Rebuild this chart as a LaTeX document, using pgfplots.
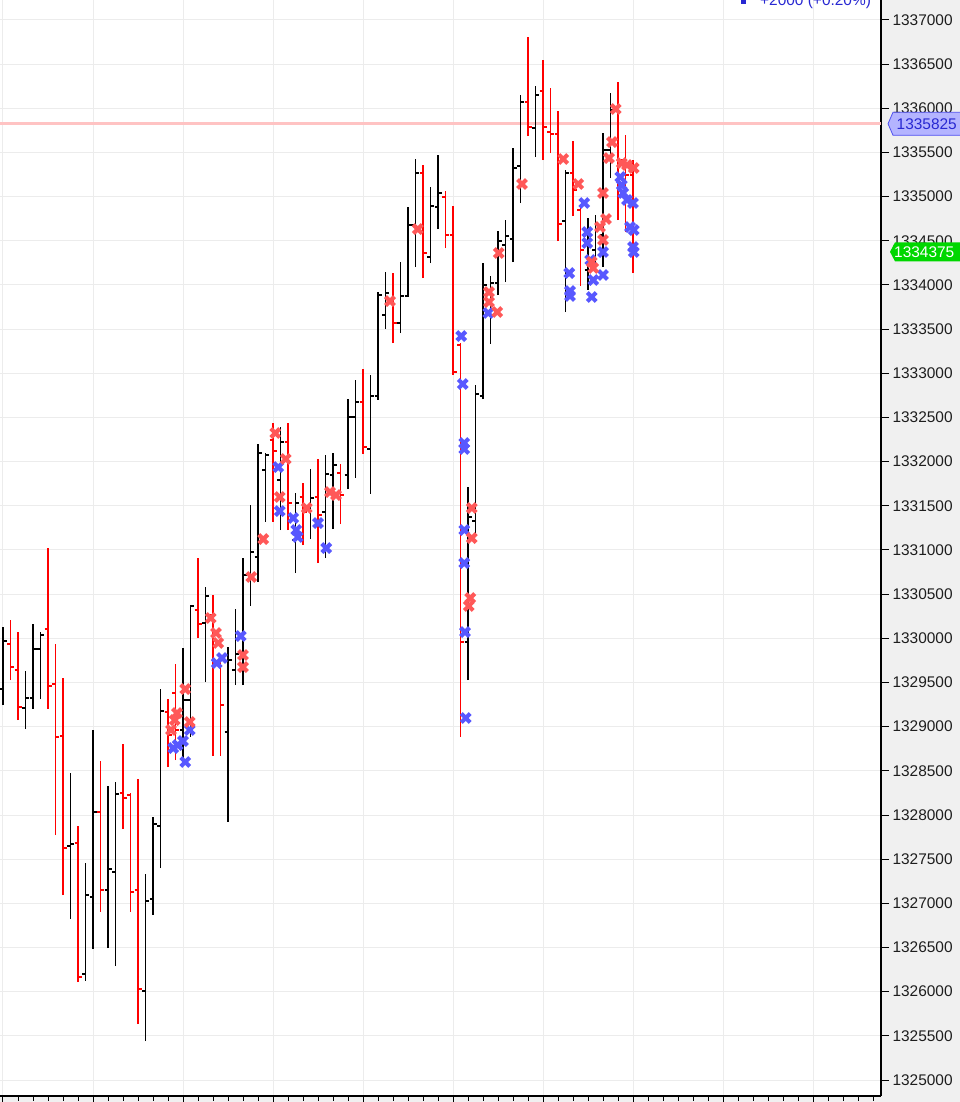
\documentclass[border=0pt]{standalone}
\usepackage{fontspec}
\setmainfont{Liberation Sans}
\usepackage{pgfplots}
\pgfplotsset{compat=1.18}
\usepackage{pgfplotstable}

\definecolor{barred}{RGB}{255,0,0}
\definecolor{mkred}{RGB}{255,88,88}
\definecolor{mkblue}{RGB}{88,88,255}
\definecolor{gridc}{RGB}{236,236,236}
\definecolor{panel}{RGB}{240,240,240}
\definecolor{lvline}{RGB}{255,195,195}
\definecolor{lblblue}{RGB}{180,180,255}
\definecolor{lblbord}{RGB}{80,80,240}
\definecolor{lbltxt}{RGB}{40,40,210}
\definecolor{lblgreen}{RGB}{0,215,0}
\definecolor{tickc}{RGB}{30,30,30}

\pgfdeclareplotmark{otick}{\pgfpathmoveto{\pgfqpoint{-3.5bp}{0pt}}\pgfpathlineto{\pgfqpoint{0pt}{0pt}}\pgfusepathqstroke}
\pgfdeclareplotmark{ctick}{\pgfpathmoveto{\pgfqpoint{0pt}{0pt}}\pgfpathlineto{\pgfqpoint{3.5bp}{0pt}}\pgfusepathqstroke}
\pgfdeclareplotmark{nomark}{}

% x o h l c  (up bars, black)
\pgfplotstableread{
x o h l c
0 1329426 1330128 1329245 1329970
3 1329211 1329630 1328973 1329324
4 1329324 1330162 1329200 1329879
5 1329879 1330071 1329313 1330037
9 1327649 1328475 1326823 1327672
11 1326200 1327456 1326121 1327094
12 1327072 1328962 1326483 1328034
14 1327151 1328328 1326494 1327389
15 1327355 1328373 1326290 1328238
19 1326007 1327332 1325441 1327026
20 1327049 1327977 1326868 1327898
21 1327875 1329426 1327400 1329177
24 1328962 1329890 1328645 1329302
25 1329302 1330377 1328883 1330366
27 1330173 1330581 1329505 1330479
30 1328939 1329902 1327921 1329754
31 1329641 1330332 1329471 1329822
32 1329698 1330909 1329471 1330717
33 1330728 1331509 1330366 1330977
34 1330920 1332200 1330637 1332098
35 1331905 1332098 1331317 1332075
37 1331792 1332392 1331226 1332222
39 1331113 1331645 1330739 1331532
41 1331452 1331917 1331124 1331588
43 1331430 1332075 1330909 1331860
44 1331849 1332098 1331237 1331962
46 1331849 1332709 1331690 1332505
47 1332505 1332924 1331815 1332675
49 1332143 1332981 1331634 1332743
50 1332743 1333920 1332698 1333886
51 1333660 1334147 1333501 1333909
53 1333569 1334260 1333456 1333875
54 1333875 1334882 1333864 1334679
55 1334679 1335426 1334203 1335267
57 1334316 1335109 1334248 1334894
58 1334882 1335471 1334633 1335041
62 1329958 1331713 1329528 1331373
63 1331328 1332867 1331192 1332766
64 1332743 1334248 1332709 1334000
65 1333830 1334101 1333332 1334022
66 1334022 1334611 1333886 1334497
67 1334452 1334735 1334033 1334554
68 1334520 1335550 1334260 1335324
69 1335346 1336150 1334928 1336071
71 1335777 1336252 1335448 1336150
75 1334724 1335301 1333694 1335267
78 1334169 1334758 1333943 1334509
79 1334396 1334792 1334226 1334679
80 1334565 1335720 1334203 1335528
81 1335528 1336173 1335211 1335980
}\blackbars

% x o h l c  (down bars, red)
\pgfplotstableread{
x o h l c
1 1329935 1330207 1329528 1329675
2 1329641 1330071 1329075 1329222
6 1330105 1331022 1329200 1329460
7 1329483 1329935 1327773 1328883
8 1328894 1329551 1327094 1327626
10 1327683 1327875 1326109 1326166
13 1328034 1328611 1326902 1327151
16 1328249 1328804 1327841 1328192
17 1328226 1328249 1326902 1327128
18 1327151 1328407 1325634 1326030
22 1329166 1329313 1328543 1328905
23 1329381 1329709 1328622 1328962
26 1330320 1330909 1330003 1330162
28 1330264 1330490 1328668 1329981
29 1329698 1329754 1328668 1329245
36 1332245 1332437 1331317 1332120
38 1332222 1332437 1331226 1331532
40 1331600 1331758 1331056 1331430
42 1331600 1332030 1330852 1331396
45 1331871 1331973 1331294 1331622
48 1332675 1333049 1332086 1332166
52 1333830 1334135 1333343 1333569
56 1335267 1335358 1334079 1334362
59 1334996 1335063 1334418 1334565
60 1334565 1334894 1332981 1333015
61 1333320 1333343 1328883 1329958
70 1336071 1336807 1335686 1335788
72 1336195 1336546 1335414 1335788
73 1335731 1336229 1335494 1335709
74 1335709 1335969 1334497 1334690
76 1335267 1335629 1334780 1335075
77 1334848 1334905 1333988 1334396
82 1335980 1336297 1334735 1335414
83 1335414 1335697 1334599 1335245
84 1335245 1335414 1334135 1334375
}\redbars

\begin{document}
\begin{tikzpicture}
\useasboundingbox (0,0) rectangle (960bp,1102bp);
\fill[white] (0,0) rectangle (960bp,1102bp);
\fill[panel] (881bp,0) rectangle (960bp,1102bp);
\fill[panel] (0,0) rectangle (960bp,6bp);
\begin{axis}[
  at={(0,6bp)}, anchor=south west,
  scale only axis, width=881bp, height=1096bp,
  xmin=-0.4, xmax=117.0667, ymin=1324819, ymax=1337226,
  axis x line*=bottom, axis y line*=right,
  axis line style={black, line width=1.2bp},
  clip mode=individual,
  xtick={0,12,...,108}, xticklabels={},
  minor xtick={0,2,...,116},
  ytick={1325000,1325500,...,1337000},
  yticklabels={1325000,1325500,1326000,1326500,1327000,1327500,1328000,1328500,1329000,1329500,1330000,1330500,1331000,1331500,1332000,1332500,1333000,1333500,1334000,1334500,1335000,1335500,1336000,1336500,1337000},
  /pgf/number format/assume math mode=true,
  tick align=outside,
  major tick length=8bp, minor tick length=5bp,
  tick style={black, line width=1bp},
  yticklabel style={font=\fontsize{15.5}{16}\selectfont, text=tickc, anchor=west},
  xmajorgrids, ymajorgrids,
  major grid style={gridc, line width=1bp},
]
\addplot[lvline, line width=3bp, forget plot] coordinates {(-0.4,1335825) (117.0667,1335825)};

\addplot[only marks, mark=nomark, forget plot,
  error bars/.cd, y dir=plus, y explicit, error mark=none,
  error bar style={draw=black, solid, line width=1.7bp}]
  table[x=x, y=l, y error plus expr=\thisrow{h}-\thisrow{l}] {\blackbars};
\addplot[only marks, mark=otick, black, line width=1.3bp, forget plot] table[x=x, y=o] {\blackbars};
\addplot[only marks, mark=ctick, black, line width=1.3bp, forget plot] table[x=x, y=c] {\blackbars};

\addplot[only marks, mark=nomark, forget plot,
  error bars/.cd, y dir=plus, y explicit, error mark=none,
  error bar style={draw=barred, solid, line width=1.7bp}]
  table[x=x, y=l, y error plus expr=\thisrow{h}-\thisrow{l}] {\redbars};
\addplot[only marks, mark=otick, barred, line width=1.3bp, forget plot] table[x=x, y=o] {\redbars};
\addplot[only marks, mark=ctick, barred, line width=1.3bp, forget plot] table[x=x, y=c] {\redbars};

\addplot[only marks, mark=x, mark size=6.3bp, mkblue, line width=4.2bp, forget plot] coordinates {
(22.7,1328758) (23.3,1328792) (24,1328837) (24.3,1328600) (24.9,1328962) (28.5,1329720) (29.2,1329777) (31.7,1330026)
(36.7,1331939) (36.9,1331441) (38.7,1331362) (39.1,1331226) (39.3,1331147) (42,1331305) (43.1,1331022)
(61.1,1333422) (61.3,1332879) (61.5,1332211) (61.5,1332143) (61.5,1331226) (61.5,1330852) (61.6,1330071) (61.7,1329098)
(64.7,1333683) (75.5,1334135) (75.6,1333931) (75.6,1333875) (77.5,1334928) (77.9,1334599) (77.9,1334475) (78.3,1334282)
(78.7,1334056) (78.5,1333864) (80,1334113) (80,1334373) (82.3,1335222) (82.5,1335131) (82.7,1335041) (83.2,1334962)
(84,1334928) (83.6,1334656) (84.1,1334622) (84,1334430) (84.1,1334373)
};
\addplot[only marks, mark=x, mark size=6.3bp, mkred, line width=4.2bp, forget plot] coordinates {
(22.4,1328962) (22.9,1329075) (23.2,1329154) (24.3,1329426) (24.9,1329053) (27.7,1330230) (28.4,1330060) (28.7,1329947)
(32,1329811) (32,1329675) (33.1,1330694) (34.7,1331124) (36.3,1332324) (37.7,1332030) (36.9,1331600) (40.5,1331475)
(43.6,1331656) (44.4,1331622) (51.6,1333818) (55.3,1334633) (62.5,1331475) (62.5,1331135) (62.3,1330456) (62.1,1330366)
(64.8,1333920) (64.8,1333807) (65.9,1333694) (66.1,1334362) (69.2,1335143) (74.7,1335426) (76.7,1335143) (80,1335041)
(80.4,1334747) (79.6,1334656) (80,1334509) (78.5,1334260) (78.7,1334192) (81.7,1335992) (81.2,1335618) (80.8,1335437)
(82.5,1335380) (83.2,1335358) (84.1,1335324)
};
\coordinate (bl) at (axis cs:117.0667,1335825);
\coordinate (gl) at (axis cs:117.0667,1334375);
\end{axis}
\draw[lblbord, fill=lblblue, line width=0.8bp] ([xshift=7bp]bl) -- ++(5bp,11.5bp) -- ++(75bp,0) -- ++(0,-23bp) -- ++(-75bp,0) -- cycle;
\node[anchor=west, text=lbltxt, font=\fontsize{15.5}{16}\selectfont, inner sep=0pt] at ([xshift=15.5bp]bl) {1335825};
\fill[lblgreen] ([xshift=9bp]gl) -- ++(5bp,9.5bp) -- ++(75bp,0) -- ++(0,-19bp) -- ++(-75bp,0) -- cycle;
\node[anchor=west, text=white, font=\fontsize{15.5}{16}\selectfont, inner sep=0pt] at ([xshift=13bp]gl) {1334375};
\fill[lbltxt] (741bp,1098bp) rectangle (746bp,1103bp);
\node[anchor=base west, text=lbltxt, font=\fontsize{15.5}{16}\selectfont, inner sep=0pt] at (760bp,1096.5bp) {+2000 (+0.20\%)};
\end{tikzpicture}
\end{document}
